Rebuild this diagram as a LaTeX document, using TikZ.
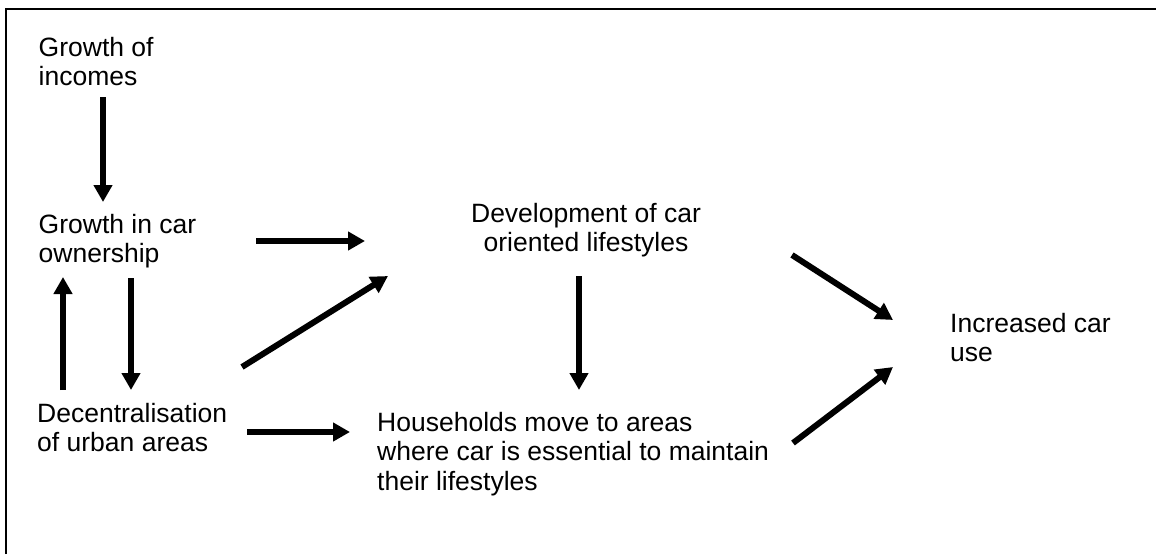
\documentclass[tikz,border=0pt]{standalone}
\usepackage{fontspec}
\setmainfont{Liberation Sans}
\usetikzlibrary{arrows.meta}
\begin{document}
\begin{tikzpicture}[x=1pt,y=-1pt,
  lbl/.style={inner sep=0pt,font=\fontsize{26.5}{29.5}\selectfont,align=left,anchor=north west},
  flow/.style={line width=6pt,-{Triangle[width=18pt,length=17pt]}},
  frame/.style={line width=2pt}]
\useasboundingbox (0,0) rectangle (1156,554);
\draw[frame] (6,554) -- (6,9) -- (1156,9);
% texts
\node[lbl] (inc) at (38.5,37) {Growth of\\incomes};
\node[lbl] (own) at (38.5,214) {Growth in car\\ownership};
\node[lbl] (dec) at (37,403) {Decentralisation\\of urban areas};
\node[lbl,align=center,anchor=north] (dev) at (586,203) {Development of car\\oriented lifestyles};
\node[lbl] (hh) at (377,412) {Households move to areas\\where car is essential to maintain\\their lifestyles};
\node[lbl] (use) at (950,313) {Increased car\\use};
% arrow ends
\coordinate (a1s) at (103,97);  \coordinate (a1e) at (103,202);
\coordinate (a2s) at (256,241); \coordinate (a2e) at (365,241);
\coordinate (a3s) at (63,390);  \coordinate (a3e) at (63,277);
\coordinate (a4s) at (131,278); \coordinate (a4e) at (131,390);
\coordinate (a5s) at (247,432); \coordinate (a5e) at (350,432);
\coordinate (a6s) at (242,367); \coordinate (a6e) at (388,276);
\coordinate (a7s) at (579,276); \coordinate (a7e) at (579,390);
\coordinate (a8s) at (792,255); \coordinate (a8e) at (893,320);
\coordinate (a9s) at (793,443); \coordinate (a9e) at (893,367);
\draw[flow] (a1s) -- (a1e);
\draw[flow] (a2s) -- (a2e);
\draw[flow] (a3s) -- (a3e);
\draw[flow] (a4s) -- (a4e);
\draw[flow] (a5s) -- (a5e);
\draw[flow] (a6s) -- (a6e);
\draw[flow] (a7s) -- (a7e);
\draw[flow] (a8s) -- (a8e);
\draw[flow] (a9s) -- (a9e);
\end{tikzpicture}
\end{document}
